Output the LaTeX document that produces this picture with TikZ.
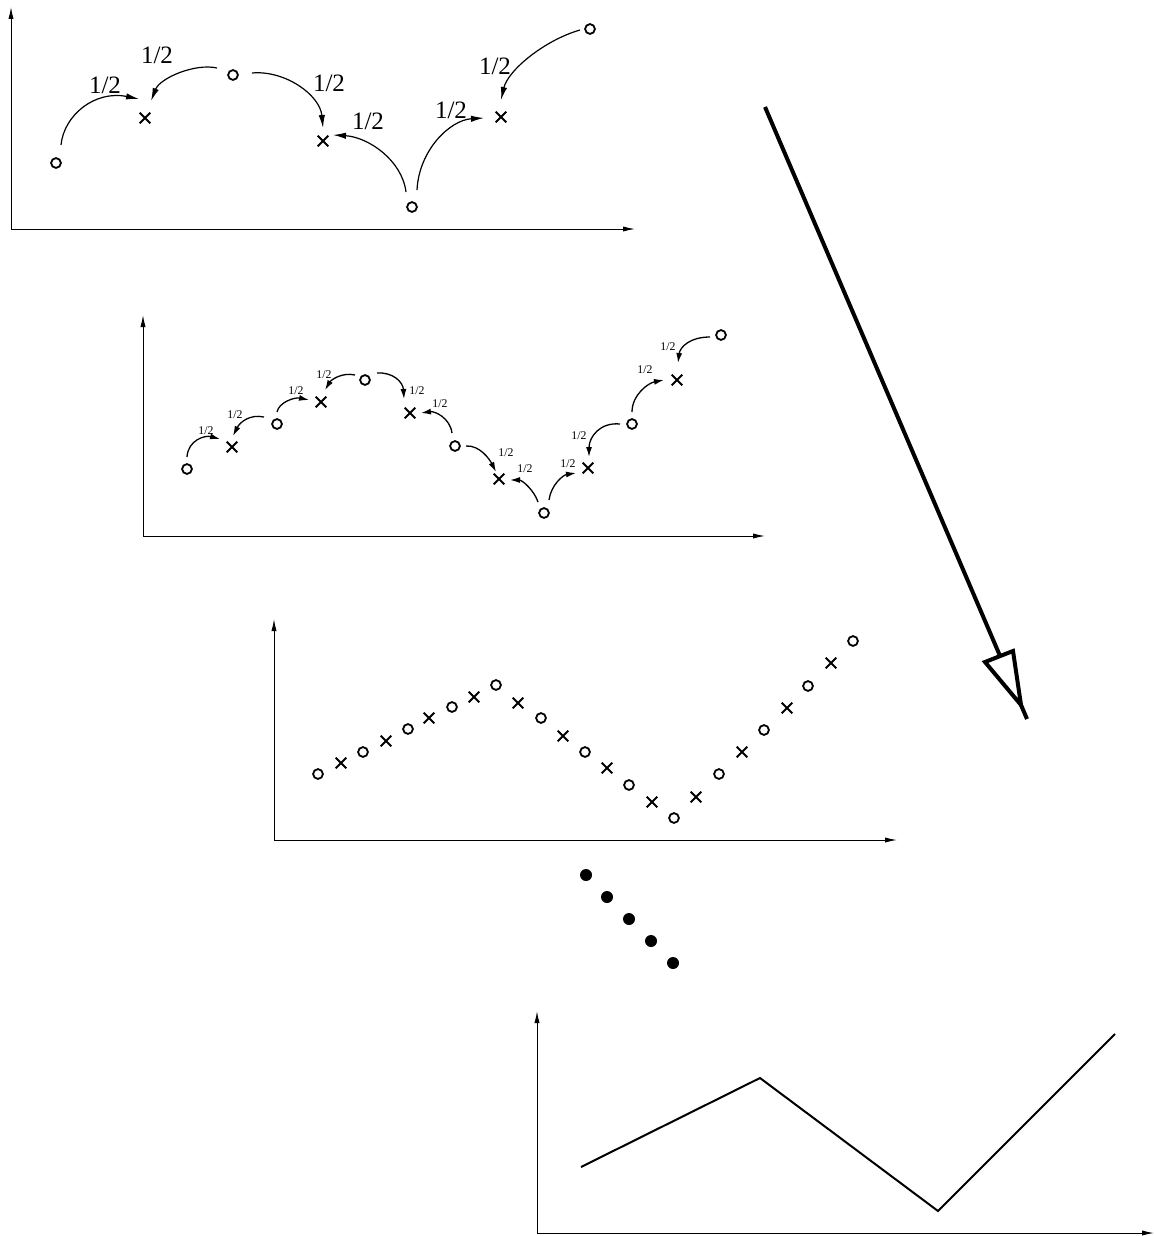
\documentclass[tikz,border=0pt]{standalone}
\usepackage{fontspec}
\setmainfont{Liberation Serif}
\usetikzlibrary{arrows.meta,shapes.misc}
\begin{document}
\begin{tikzpicture}[x=0.5pt,y=-0.5pt,
  axis/.style={line width=0.5pt,-{Latex[length=6pt,width=2.6pt]}},
  omk/.style={circle,draw=black,line width=0.9pt,inner sep=0pt,minimum size=4.9pt},
  xmk/.style={cross out,draw=black,line width=0.9pt,inner sep=0pt,minimum size=4.4pt},
  dotm/.style={circle,fill=black,inner sep=0pt,minimum size=6pt},
  lab/.style={inner sep=0pt,font=\fontsize{12.5pt}{13pt}\selectfont},
  slab/.style={inner sep=0pt,font=\fontsize{5.9pt}{6pt}\selectfont},
  bc/.style={line width=0.6pt,-{Latex[length=6.5pt,width=3.2pt]}},
  sc/.style={line width=0.65pt,-{Latex[length=5pt,width=3pt]}},
  big/.style={line width=2pt,line join=miter}
]
\useasboundingbox (0,0) rectangle (1154,1236);

% ---------- Panel 1 ----------
\coordinate (o1) at (11,229);
\coordinate (ya1) at (11,7);
\coordinate (xa1) at (635,229);
\draw[axis] (o1) -- (ya1);
\draw[axis] (o1) -- (xa1);
\node[omk] (c11) at (56,163) {};
\node[omk] (c12) at (233,75) {};
\node[omk] (c13) at (412,207) {};
\node[omk] (c14) at (590,29) {};
\node[xmk] (x11) at (145,118) {};
\node[xmk] (x12) at (323,141) {};
\node[xmk] (x13) at (501,117) {};
\draw[bc] ([shift={(5,-18)}]c11.center) .. controls (64,115) and (95,90) .. ([shift={(-6,-19)}]x11.center);
\draw[bc] ([shift={(-16,-7)}]c12.center) .. controls (195,63) and (160,78) .. ([shift={(6,-17)}]x11.center);
\draw[bc] ([shift={(19,-2)}]c12.center) .. controls (285,70) and (320,95) .. ([shift={(0,-13)}]x12.center);
\draw[bc] ([shift={(-6,-15)}]c13.center) .. controls (402,160) and (368,137) .. ([shift={(10,-6)}]x12.center);
\draw[bc] ([shift={(5,-17)}]c13.center) .. controls (419,150) and (450,120) .. ([shift={(-17,1)}]x13.center);
\draw[bc] ([shift={(-10,1)}]c14.center) .. controls (545,40) and (508,70) .. ([shift={(0,-17)}]x13.center);
\node[lab] (l11) at (105,85) {1/2};
\node[lab] (l12) at (157,55) {1/2};
\node[lab] (l13) at (329,83) {1/2};
\node[lab] (l14) at (368,121) {1/2};
\node[lab] (l15) at (451,110) {1/2};
\node[lab] (l16) at (495,66) {1/2};

% ---------- Panel 2 ----------
\coordinate (o2) at (143,536);
\coordinate (ya2) at (143,315);
\coordinate (xa2) at (765,536);
\draw[axis] (o2) -- (ya2);
\draw[axis] (o2) -- (xa2);
\node[omk] (p1) at (187,469) {};
\node[xmk] (p2) at (232,447) {};
\node[omk] (p3) at (277,424) {};
\node[xmk] (p4) at (321,402) {};
\node[omk] (p5) at (365,380) {};
\node[xmk] (p6) at (410,413) {};
\node[omk] (p7) at (455,446) {};
\node[xmk] (p8) at (499,479) {};
\node[omk] (p9) at (544,513) {};
\node[xmk] (p10) at (588,468) {};
\node[omk] (p11) at (632,424) {};
\node[xmk] (p12) at (677,380) {};
\node[omk] (p13) at (721,335) {};
\draw[sc] ([shift={(0,-12)}]p1.center) .. controls (188,440) and (205,435) .. ([shift={(-12,-8)}]p2.center);
\draw[sc] ([shift={(-13,-7)}]p3.center) .. controls (250,414) and (240,422) .. ([shift={(1,-11)}]p2.center);
\draw[sc] ([shift={(0,-12)}]p3.center) .. controls (279,402) and (295,397) .. ([shift={(-12,-2)}]p4.center);
\draw[sc] ([shift={(-10,-5)}]p5.center) .. controls (342,372) and (331,380) .. ([shift={(4,-12)}]p4.center);
\draw[sc] ([shift={(12,-7)}]p5.center) .. controls (393,372) and (403,382) .. ([shift={(-6,-14)}]p6.center);
\draw[sc] ([shift={(-3,-13)}]p7.center) .. controls (450,418) and (435,411) .. ([shift={(11,0)}]p6.center);
\draw[sc] ([shift={(11,0)}]p7.center) .. controls (480,445) and (490,460) .. ([shift={(-3,-7)}]p8.center);
\draw[sc] ([shift={(-6,-11)}]p9.center) .. controls (534,490) and (522,480) .. ([shift={(11,1)}]p8.center);
\draw[sc] ([shift={(5,-13)}]p9.center) .. controls (551,485) and (563,475) .. ([shift={(-12,5)}]p10.center);
\draw[sc] ([shift={(-12,0)}]p11.center) .. controls (600,422) and (589,437) .. ([shift={(1,-11)}]p10.center);
\draw[sc] ([shift={(0,-12)}]p11.center) .. controls (632,395) and (648,383) .. ([shift={(-13,0)}]p12.center);
\draw[sc] ([shift={(-11,2)}]p13.center) .. controls (690,337) and (680,347) .. ([shift={(1,-17)}]p12.center);
\node[slab] (l21) at (206,431) {1/2};
\node[slab] (l22) at (235,415) {1/2};
\node[slab] (l23) at (296,391) {1/2};
\node[slab] (l24) at (324,375) {1/2};
\node[slab] (l25) at (417,391) {1/2};
\node[slab] (l26) at (440,404) {1/2};
\node[slab] (l27) at (506,453) {1/2};
\node[slab] (l28) at (525,469) {1/2};
\node[slab] (l29) at (568,464) {1/2};
\node[slab] (l210) at (579,436) {1/2};
\node[slab] (l211) at (645,370) {1/2};
\node[slab] (l212) at (668,347) {1/2};

% ---------- Panel 3 ----------
\coordinate (o3) at (274,840);
\coordinate (ya3) at (274,619);
\coordinate (xa3) at (897,840);
\draw[axis] (o3) -- (ya3);
\draw[axis] (o3) -- (xa3);
\foreach \px/\py/\t [count=\i] in {318/774/omk, 341/763/xmk, 363/752/omk, 386/741/xmk, 408/729/omk, 429/718/xmk,
  452/707/omk, 474/697/xmk, 496/685/omk, 518/703/xmk, 541/718/omk, 563/736/xmk, 585/752/omk, 607/768/xmk,
  629/785/omk, 652/802/xmk, 674/818/omk, 696/797/xmk, 719/774/omk, 742/752/xmk, 764/730/omk, 787/708/xmk,
  808/686/omk, 831/663/xmk, 853/641/omk}
  \node[\t] (q\i) at (\px,\py) {};

% ---------- dots ----------
\node[dotm] (d1) at (586,875) {};
\node[dotm] (d2) at (607,897) {};
\node[dotm] (d3) at (629,919) {};
\node[dotm] (d4) at (651,941) {};
\node[dotm] (d5) at (673,963) {};

% ---------- Panel 4 ----------
\coordinate (o4) at (537,1233);
\coordinate (ya4) at (537,1011);
\coordinate (xa4) at (1154,1233);
\draw[axis] (o4) -- (ya4);
\draw[axis] (o4) -- (xa4);
\coordinate (r1) at (581,1167);
\coordinate (r2) at (760,1078);
\coordinate (r3) at (938,1211);
\coordinate (r4) at (1115,1034);
\draw[line width=1pt] (r1) -- (r2) -- (r3) -- (r4);

% ---------- big arrow ----------
\coordinate (ba) at (765,107);
\coordinate (bb) at (1027,719);
\draw[big] (ba) -- (bb);
\coordinate (t1) at (985,662);
\coordinate (t2) at (1013,651);
\coordinate (t3) at (1021,705);
\draw[big,fill=white] (t1) -- (t2) -- (t3) -- cycle;
\end{tikzpicture}
\end{document}
